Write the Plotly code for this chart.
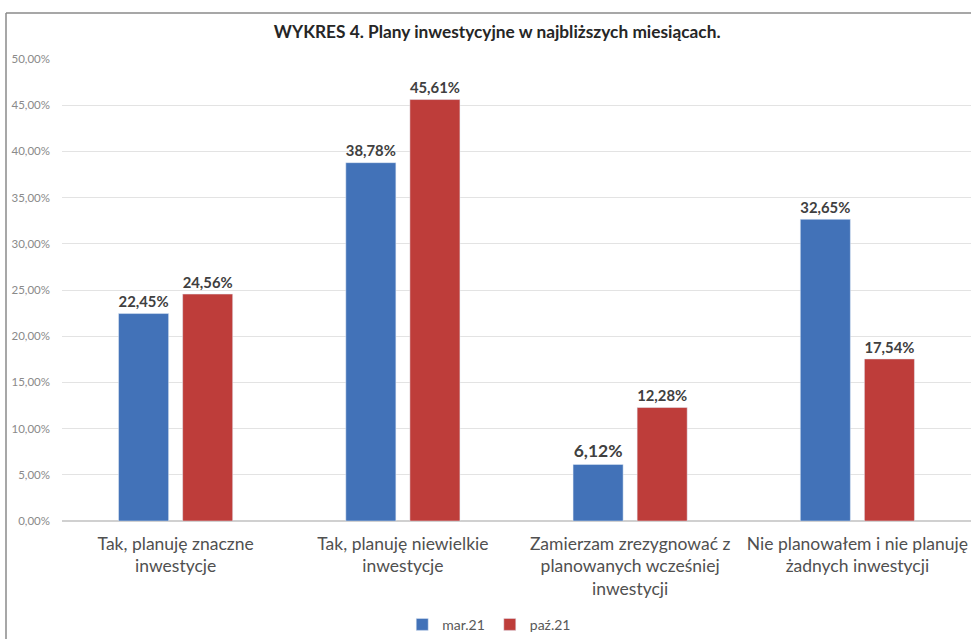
import plotly.graph_objects as go

categories = [
    "Tak, planuję znaczne<br>inwestycje",
    "Tak, planuję niewielkie<br>inwestycje",
    "Zamierzam zrezygnować z<br>planowanych wcześniej<br>inwestycji",
    "Nie planowałem i nie planuję<br>żadnych inwestycji",
]
series_names = ["mar.21", "paź.21"]
mar21 = [22.45, 38.78, 6.12, 32.65]
paz21 = [24.56, 45.61, 12.28, 17.54]
tick_values = [0, 5, 10, 15, 20, 25, 30, 35, 40, 45, 50]

colors = ["#4272B8", "#BE3D3A"]
FONT = "Lato, 'Open Sans', sans-serif"

def fmt(v):
    return f"{v:.2f}".replace(".", ",") + "%"

fig = go.Figure()
for name, vals, col in zip(series_names, [mar21, paz21], colors):
    fig.add_trace(go.Bar(
        x=categories, y=vals, name=name, marker_color=col,
        text=[fmt(v) for v in vals], textposition="outside",
        textfont=dict(family=FONT, size=17.5, color="#404040"),
        texttemplate="<b>%{text}</b>", cliponaxis=False,
    ))

fig.update_layout(
    width=971, height=639,
    margin=dict(l=62, r=0, t=59, b=118, autoexpand=False),
    paper_bgcolor="white", plot_bgcolor="white",
    barmode="group", bargap=0.436, bargroupgap=0.219,
    title=dict(text="<b>WYKRES 4. Plany inwestycyjne w najbliższych miesiącach.</b>",
               x=0.512, xanchor="center", y=0.95, yanchor="middle",
               font=dict(family=FONT, size=17.3, color="#262626")),
    legend=dict(orientation="h", x=0.47, xanchor="center", y=-0.19, yanchor="top",
                font=dict(family=FONT, size=14, color="#595959"),
                itemwidth=30, tracegroupgap=0),
    showlegend=True,
    font=dict(family=FONT),
)
fig.update_yaxes(range=[0, 50], tickvals=tick_values,
                 ticktext=[fmt(v) for v in tick_values],
                 tickfont=dict(family=FONT, size=11.5, color="#8a8a8a"),
                 showgrid=True, gridcolor="#e3e3e3", gridwidth=1,
                 zeroline=True, zerolinecolor="#d0d0d0", ticks="", ticklen=0,
                 ticklabelstandoff=11, automargin=False)
fig.update_xaxes(tickfont=dict(family=FONT, size=17.5, color="#505050"),
                 showline=False, ticks="", tickangle=0, automargin=False,
                 ticklabelstandoff=10)

# chart frame
fig.add_shape(type="line", xref="paper", yref="paper",
              x0=-0.0616, x1=1.02, y0=1.0996, y1=1.0996,
              line=dict(color="#8a8a8a", width=1.5))
fig.add_shape(type="line", xref="paper", yref="paper",
              x0=-0.0616, x1=-0.0616, y0=1.0996, y1=-0.3,
              line=dict(color="#8a8a8a", width=1.5))

fig.write_html("out.html", config={"displayModeBar": False},
               post_script="document.body.style.margin='0';document.body.style.overflow='hidden';")
